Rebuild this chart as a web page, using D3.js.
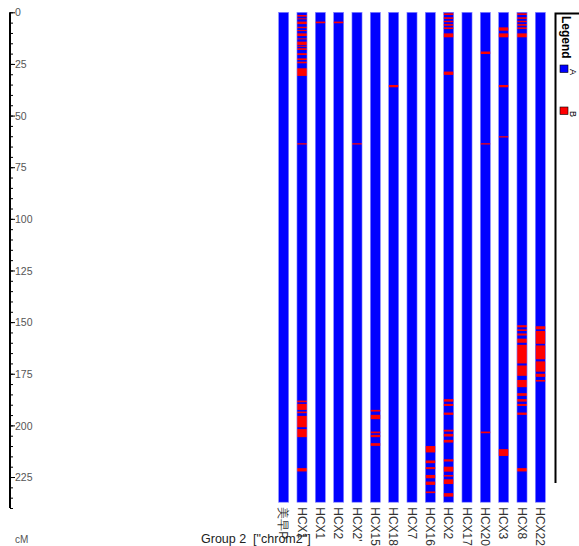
<!DOCTYPE html>
<html>
<head>
<meta charset="utf-8">
<script src="https://cdn.jsdelivr.net/npm/d3@7"></script>
<style>
  body { margin: 0; background: #fff; }
  svg { display: block; font-family: "Liberation Sans", Arial, sans-serif; }
</style>
</head>
<body>
<div id="chart"></div>
<script>
// sizes
var width = 579,
    height = 546;

// samples (columns) of the map
var samples = ["美早P", "HCX1", "HCX1 ", "HCX2", "HCX2'", "HCX15", "HCX18", "HCX7",
               "HCX16", "HCX2 ", "HCX17", "HCX20", "HCX3", "HCX8", "HCX22"];

// genotype B intervals (cM) for each sample, everything else is A
var bSegments = [
  [],
  [[1.3, 2.1], [2.9, 3.4], [4.5, 5.7], [7.0, 7.7], [8.6, 9.1], [10.2, 11.5], [12.6, 13.1],
   [14.2, 15.8], [16.2, 16.6], [17.4, 18.2], [19.8, 20.7], [22.3, 23.1], [23.9, 24.7],
   [27.1, 30.8], [63.4, 64.0], [188.0, 188.8], [189.6, 192.5], [193.3, 194.1],
   [195.4, 200.9], [201.8, 205.7], [220.7, 222.3]],
  [[4.5, 5.3]],
  [[4.5, 5.3]],
  [[63.4, 64.0]],
  [[192.5, 193.3], [194.9, 197.0], [203.0, 203.8], [204.6, 205.7], [208.6, 209.9]],
  [[35.2, 36.3]],
  [],
  [[210.0, 213.1], [217.0, 218.3], [220.2, 221.2], [224.0, 225.6], [227.2, 228.8], [232.0, 232.8]],
  [[0.5, 1.3], [2.4, 3.2], [4.1, 4.8], [5.7, 6.5], [7.3, 8.1], [10.2, 12.1], [28.7, 30.3],
   [187.3, 188.5], [189.6, 190.6], [193.8, 194.9], [202.1, 203.0], [204.1, 205.4],
   [207.0, 208.3], [216.4, 217.5], [220.0, 222.4], [224.0, 224.8], [226.1, 228.4],
   [232.8, 234.5]],
  [],
  [[19.0, 20.2], [63.4, 64.0], [203.0, 203.8]],
  [[7.3, 8.9], [10.2, 12.1], [35.2, 36.3], [60.0, 60.6], [211.5, 214.8]],
  [[0.5, 1.3], [2.4, 3.2], [4.1, 4.8], [5.7, 6.5], [7.3, 8.1], [10.2, 12.1],
   [151.5, 152.5], [153.5, 154.3], [155.5, 156.5], [158.0, 160.0], [161.0, 170.0],
   [171.0, 176.0], [178.0, 181.5], [184.4, 185.7], [187.3, 188.5], [189.6, 190.6],
   [193.8, 194.9], [220.7, 222.3]],
  [[152.0, 153.5], [154.3, 160.5], [161.3, 168.0], [169.0, 174.0], [175.0, 176.5], [178.0, 178.8]]
];

var mapEnd = 237.2;
var ticksMajor = d3.range(0, 226, 25);
var ticksMinor = d3.range(0, 241, 5);
var genotypes = ["A", "B"];
var genoColors = ["#0000ff", "#ff0000"];

var svg = d3.select("#chart").append("svg")
  .attr("width", width)
  .attr("height", height);

var y = d3.scaleLinear()
  .domain([0, 240])
  .range([12.3, 508]);

var x = d3.scaleBand()
  .domain(d3.range(samples.length))
  .range([274.5, 549.5])
  .paddingInner(0.45)
  .paddingOuter(0.225);

var color = d3.scaleOrdinal().domain(genotypes).range(genoColors);

// eje vertical en cM
var minor = svg.append("g")
  .attr("transform", "translate(10,0)")
  .call(d3.axisRight(y).tickValues(ticksMinor).tickSize(3).tickFormat(""));
minor.select(".domain").remove();
minor.selectAll("line").attr("stroke", "#000");

var axis = svg.append("g")
  .attr("transform", "translate(10,0)")
  .call(d3.axisRight(y).tickValues(ticksMajor).tickSize(5).tickSizeOuter(0).tickPadding(0));
axis.select(".domain").attr("stroke", "#000").attr("stroke-width", 2)
  .attr("d", "M0," + y(0) + "V" + y(240));
axis.selectAll("text")
  .style("font-size", "10.5px")
  .attr("fill", "#555")
  .attr("dy", "0.35em");

// columnas
var cols = svg.append("g").selectAll("g")
  .data(samples)
  .enter()
  .append("g")
  .attr("transform", function(d, i) { return "translate(" + x(i) + ",0)"; });

cols.append("rect")
  .attr("y", y(0))
  .attr("width", x.bandwidth())
  .attr("height", y(mapEnd) - y(0))
  .attr("fill", color("A"));

cols.selectAll(".seg")
  .data(function(d, i) { return bSegments[i]; })
  .enter()
  .append("rect")
  .attr("class", "seg")
  .attr("y", function(d) { return y(d[0]); })
  .attr("width", x.bandwidth())
  .attr("height", function(d) { return Math.max(1, y(d[1]) - y(d[0])); })
  .attr("fill", color("B"));

cols.append("rect")
  .attr("y", y(0))
  .attr("width", x.bandwidth())
  .attr("height", y(mapEnd) - y(0))
  .attr("fill", "none")
  .attr("stroke", "#8c8cff")
  .attr("stroke-width", 0.6);

// nombres de las muestras
cols.append("text")
  .attr("transform", "translate(" + (x.bandwidth() / 2) + "," + (y(mapEnd) + 5) + ") rotate(90)")
  .attr("dy", "0.35em")
  .style("font-size", "12px")
  .attr("fill", "#333")
  .text(function(d) { return d.trim(); });

// leyenda
var legend = svg.append("g");
legend.append("path")
  .attr("d", "M579,13.5H555.5V483")
  .attr("fill", "none")
  .attr("stroke", "#000")
  .attr("stroke-width", 2);
legend.append("text")
  .attr("transform", "translate(562,16) rotate(90)")
  .style("font-size", "12px")
  .style("font-weight", "bold")
  .text("Legend");
var items = legend.selectAll(".item")
  .data(genotypes)
  .enter()
  .append("g")
  .attr("transform", function(d, i) { return "translate(560," + (65 + i * 42) + ")"; });
items.append("rect")
  .attr("width", 8)
  .attr("height", 7.5)
  .attr("fill", function(d) { return color(d); })
  .attr("stroke", "#000")
  .attr("stroke-width", 0.6);
items.append("text")
  .attr("transform", "translate(10,4) rotate(90)")
  .style("font-size", "9px")
  .text(function(d) { return d; });

// textos inferiores
svg.append("text")
  .attr("x", 15)
  .attr("y", 543)
  .style("font-size", "10px")
  .attr("fill", "#555")
  .text("cM");
svg.append("text")
  .attr("x", 201)
  .attr("y", 543)
  .style("font-size", "12.5px")
  .style("white-space", "pre")
  .attr("fill", "#222")
  .text("Group 2  [\"chrom2\"]");
</script>
</body>
</html>
